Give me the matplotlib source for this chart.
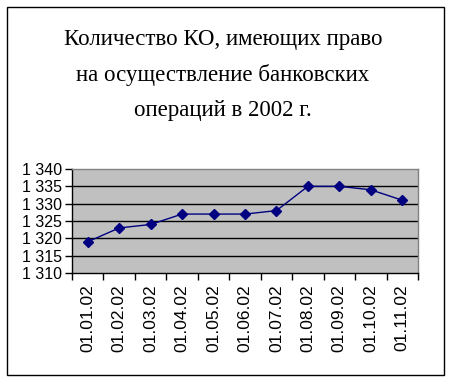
import matplotlib
matplotlib.use("Agg")
import matplotlib.pyplot as plt
from matplotlib.patches import Rectangle

title = "Количество КО, имеющих право\nна осуществление банковских\nопераций в 2002 г."
dates = ["01.01.02", "01.02.02", "01.03.02", "01.04.02", "01.05.02", "01.06.02",
         "01.07.02", "01.08.02", "01.09.02", "01.10.02", "01.11.02"]
counts = [1319, 1323, 1324, 1327, 1327, 1327, 1328, 1335, 1335, 1334, 1331]
y_ticks = [1310, 1315, 1320, 1325, 1330, 1335, 1340]

fig = plt.figure(figsize=(4.5, 3.8), dpi=100)
fig.patch.set_facecolor("white")

# outer frame of the chart
fig.patches.append(Rectangle((7 / 450, 5 / 380), 437 / 450, 368 / 380,
                             transform=fig.transFigure, fill=False,
                             edgecolor="black", linewidth=1.0))

fig.text(0.495, 0.925, title, ha="center", va="top", fontsize=16.5,
         family="Liberation Serif", linespacing=1.87)

ax = fig.add_axes([72 / 450, (380 - 273) / 380, 346 / 450, 104 / 380])
ax.set_facecolor("#C0C0C0")

x = list(range(len(dates)))
ax.plot(x, counts, color="#000080", linewidth=1.0, marker="D",
        markersize=5.5, markerfacecolor="#000080", markeredgecolor="#000080",
        zorder=3)

ax.set_xlim(-0.5, len(dates) - 0.5)
ax.set_ylim(1310, 1340)

for v in y_ticks[1:-1]:
    ax.axhline(v, color="black", linewidth=1.0, zorder=1)

ax.set_yticks(y_ticks)
ax.set_yticklabels([f"{v // 1000} {v % 1000:03d}" for v in y_ticks],
                   family="Liberation Sans", fontsize=11.5)

# category labels centred, tick marks on the boundaries
ax.set_xticks([i - 0.5 for i in range(len(dates) + 1)])
ax.set_xticklabels([])
ax.set_xticks(x, minor=True)
ax.set_xticklabels(dates, minor=True, rotation=90, family="Liberation Sans",
                   fontsize=12.5)
ax.tick_params(axis="x", which="major", length=5, width=1, direction="out")
ax.tick_params(axis="x", which="minor", length=0, pad=8)
ax.tick_params(axis="y", length=5, width=1, direction="out", pad=2)

ax.spines["left"].set_color("black")
ax.spines["bottom"].set_color("black")
ax.spines["top"].set_color("#808080")
ax.spines["right"].set_color("#808080")
for s in ax.spines.values():
    s.set_linewidth(1.0)

fig.savefig("out.png", dpi=100)
